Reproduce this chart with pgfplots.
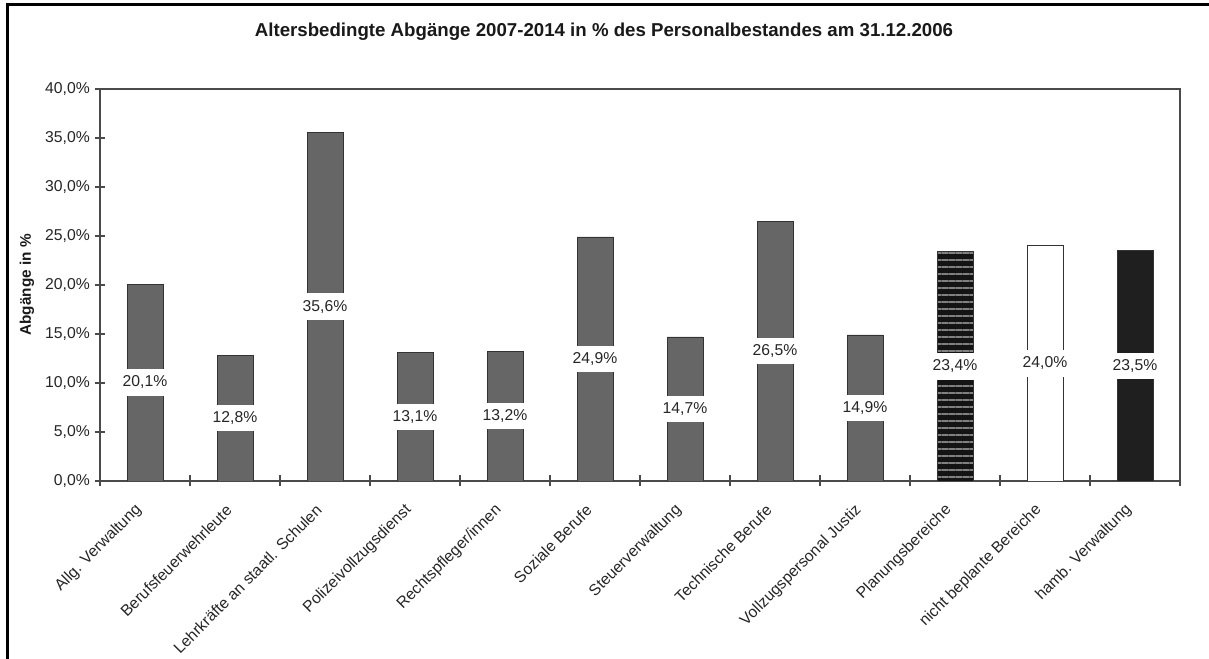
\documentclass[border=0pt]{standalone}
\usepackage{pgfplots}
\pgfplotsset{compat=1.18}
\usepackage{fontspec}
\setmainfont{Liberation Sans}
\usetikzlibrary{patterns.meta}
\definecolor{bargray}{HTML}{666666}
\definecolor{axgray}{HTML}{4A4A4A}
\begin{document}
\begin{tikzpicture}[x=1pt,y=1pt]
\path[use as bounding box] (0,0) rectangle (906.75,494.25);
\fill[white] (0,0) rectangle (906.75,494.25);
\draw[line width=2.25pt] (5.6,-5) -- (5.6,490.5) -- (912,490.5);
\node[font=\bfseries\fontsize{14}{16}\selectfont, text=black!90] at (453,470.5) {Altersbedingte Abgänge 2007-2014 in \% des Personalbestandes am 31.12.2006};
\node[font=\bfseries\fontsize{11.5}{13}\selectfont, rotate=90, text=black!90] at (20.25,280.5) {Abgänge in \%};
\begin{axis}[
  at={(75pt,133.5pt)}, anchor=south west,
  scale only axis, width=810pt, height=294pt,
  xmin=-0.5, xmax=11.5, ymin=0, ymax=40,
  ybar, bar width=27pt, bar shift=0pt,
  axis line style={draw=axgray, line width=0.8pt},
  tick align=center,
  xtick pos=bottom, ytick pos=left,
  major tick length=8.25pt, minor tick length=8.25pt,
  every tick/.style={draw=axgray, line width=0.8pt},
  major x tick style={draw=none},
  minor xtick={-0.5,0.5,...,11.5},
  xtick={0,...,11},
  xticklabels={Allg. Verwaltung, Berufsfeuerwehrleute, Lehrkräfte an staatl. Schulen, Polizeivollzugsdienst, Rechtspfleger/innen, Soziale Berufe, Steuerverwaltung, Technische Berufe, Vollzugspersonal Justiz, Planungsbereiche, nicht beplante Bereiche, hamb. Verwaltung},
  xticklabel style={rotate=45, anchor=east, xshift=-11pt, yshift=-8pt},
  ytick={0,5,...,40},
  yticklabels={{0,0\%},{5,0\%},{10,0\%},{15,0\%},{20,0\%},{25,0\%},{30,0\%},{35,0\%},{40,0\%}},
  tick label style={font=\fontsize{11.8}{13}\selectfont, text=black!85},
  nodes near coords,
  point meta=explicit symbolic,
  visualization depends on=rawy \as \rawy,
  every node near coord/.style={anchor=center, fill=white, inner xsep=2pt, inner ysep=5pt, text=black!85, font=\fontsize{11.8}{13}\selectfont, shift={(axis direction cs:0,-\rawy/2)}},
]
\addplot[fill=bargray, draw=black!80, line width=0.6pt] coordinates {
 (0,20.1) [20,1\%]
 (1,12.8) [12,8\%]
 (2,35.6) [35,6\%]
 (3,13.1) [13,1\%]
 (4,13.2) [13,2\%]
 (5,24.9) [24,9\%]
 (6,14.7) [14,7\%]
 (7,26.5) [26,5\%]
 (8,14.9) [14,9\%]
};
\addplot[fill=black!92, draw=black!80, line width=0.6pt, postaction={pattern={Lines[angle=0,distance=5.25pt,line width=2.1pt]}, pattern color=black!50}] coordinates {
 (9,23.4) [23,4\%]
};
\addplot[fill=white, draw=black!80, line width=0.6pt] coordinates {
 (10,24.0) [24,0\%]
};
\addplot[fill=black!88, draw=black!80, line width=0.6pt] coordinates {
 (11,23.5) [23,5\%]
};
\end{axis}
\end{tikzpicture}
\end{document}
